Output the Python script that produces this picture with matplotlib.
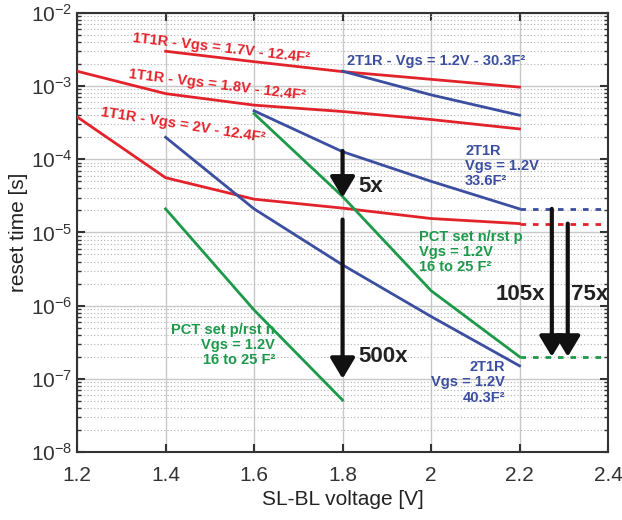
import matplotlib.pyplot as plt
from matplotlib.ticker import LogLocator, NullFormatter, FixedLocator

plt.rcParams['font.family'] = ['Liberation Sans', 'DejaVu Sans']
plt.rcParams['mathtext.fontset'] = 'custom'
plt.rcParams['mathtext.rm'] = 'Liberation Sans'

# --- data ---
v_17 = [1.4, 1.6, 1.8, 2.0, 2.2]
t_17 = [3.0e-3, 2.16e-3, 1.58e-3, 1.24e-3, 9.7e-4]

v_18 = [1.2, 1.4, 1.6, 1.8, 2.0, 2.2]
t_18 = [1.6e-3, 7.9e-4, 5.5e-4, 4.5e-4, 3.5e-4, 2.6e-4]

v_20 = [1.2, 1.4, 1.6, 1.8, 2.0, 2.2]
t_20 = [3.8e-4, 5.6e-5, 2.85e-5, 2.15e-5, 1.55e-5, 1.32e-5]

v_303 = [1.8, 2.0, 2.2]
t_303 = [1.6e-3, 7.6e-4, 4.0e-4]

v_336 = [1.6, 1.8, 2.0, 2.2]
t_336 = [4.6e-4, 1.27e-4, 5.0e-5, 2.1e-5]

v_403 = [1.4, 1.6, 1.8, 2.0, 2.2]
t_403 = [2.0e-4, 2.1e-5, 3.6e-6, 7.1e-7, 1.5e-7]

v_pct_n = [1.6, 1.8, 2.0, 2.2]
t_pct_n = [4.2e-4, 3.1e-5, 1.6e-6, 2.0e-7]

v_pct_p = [1.4, 1.6, 1.8]
t_pct_p = [2.1e-5, 8.7e-7, 5.1e-8]

# extrapolated levels beyond 2.2 V
ext_v = [2.2, 2.4]

# improvement arrows
arrows_x = [1.8, 1.8, 2.273, 2.309]
arrows_y0 = [1.3e-4, 1.5e-5, 2.1e-5, 1.32e-5]
arrows_y1 = [3.0e-5, 1.0e-7, 2.0e-7, 2.0e-7]

red = '#e3232b'
blue = '#3b4ea0'
green = '#1c9a4a'

fig = plt.figure(figsize=(6.22, 5.2), dpi=100)
ax = fig.add_axes([0.124, 0.131, 0.8535, 0.844])

ax.set_yscale('log')
ax.set_xlim(1.2, 2.4)
ax.set_ylim(1e-8, 1e-2)

lw = 2.0
ax.plot(v_17, t_17, color=red, lw=lw, zorder=3)
ax.plot(v_18, t_18, color=red, lw=lw, zorder=3)
ax.plot(v_20, t_20, color=red, lw=lw, zorder=3)
ax.plot(v_303, t_303, color=blue, lw=lw, zorder=3)
ax.plot(v_336, t_336, color=blue, lw=lw, zorder=3)
ax.plot(v_403, t_403, color=blue, lw=lw, zorder=3)
ax.plot(v_pct_n, t_pct_n, color=green, lw=lw, zorder=3)
ax.plot(v_pct_p, t_pct_p, color=green, lw=lw, zorder=3)

dash = (0, (2, 2.5))
ax.plot(ext_v, [t_20[-1]] * 2, color=red, lw=lw, ls=dash, zorder=3)
ax.plot(ext_v, [t_336[-1]] * 2, color=blue, lw=lw, ls=dash, zorder=3)
ax.plot(ext_v, [t_pct_n[-1]] * 2, color=green, lw=lw, ls=dash, zorder=3)

for x, y0, y1 in zip(arrows_x, arrows_y0, arrows_y1):
    ax.annotate('', xy=(x, y1), xytext=(x, y0),
                arrowprops=dict(arrowstyle='-|>,head_width=0.75,head_length=1.25',
                                color='#111111', lw=3.0, shrinkA=0, shrinkB=0),
                zorder=5)

# axes / grid
ax.xaxis.set_major_locator(FixedLocator([1.2, 1.4, 1.6, 1.8, 2.0, 2.2, 2.4]))
ax.set_xticklabels(['1.2', '1.4', '1.6', '1.8', '2', '2.2', '2.4'])
ax.yaxis.set_major_locator(LogLocator(base=10, numticks=10))
ax.yaxis.set_minor_locator(LogLocator(base=10, subs=range(2, 10), numticks=20))
ax.yaxis.set_minor_formatter(NullFormatter())
ax.grid(True, which='major', color='#c8c8c8', lw=1.0)
ax.grid(True, which='minor', axis='y', color='#b0b0b0', lw=0.8, ls=(0, (1, 2)))
ax.set_axisbelow(True)

ax.tick_params(which='both', direction='in', top=True, right=True, labelsize=15,
               colors='#333333')
ax.tick_params(which='major', length=6, width=1.5)
ax.tick_params(which='minor', length=3, width=1.0)
ax.tick_params(axis='x', pad=10)
for s in ax.spines.values():
    s.set_linewidth(1.5)
    s.set_color('#333333')

ax.set_xlabel('SL-BL voltage [V]', fontsize=15, labelpad=4, color='#222222')
ax.set_ylabel('reset time [s]', fontsize=15, labelpad=2, color='#222222')

# curve labels
fs = 10.5
ax.text(1.525, 3.3e-3, '1T1R - Vgs = 1.7V - 12.4F²', color=red, fontsize=fs,
        fontweight='bold', rotation=-6.5, ha='center', va='center')
ax.text(1.516, 1.05e-3, '1T1R - Vgs = 1.8V - 12.4F²', color=red, fontsize=fs,
        fontweight='bold', rotation=-7, ha='center', va='center')
ax.text(1.44, 2.95e-4, '1T1R - Vgs = 2V - 12.4F²', color=red, fontsize=fs,
        fontweight='bold', rotation=-9, ha='center', va='center')
ax.text(1.81, 2.2e-3, '2T1R - Vgs = 1.2V - 30.3F²', color=blue, fontsize=fs,
        fontweight='bold', ha='left', va='center')
ax.text(2.077, 8.0e-5, '2T1R\nVgs = 1.2V\n33.6F²', color=blue, fontsize=fs,
        fontweight='bold', ha='left', va='center', linespacing=1.1)
ax.text(1.973, 5.4e-6, 'PCT set n/rst p\nVgs = 1.2V\n16 to 25 F²', color=green,
        fontsize=fs, fontweight='bold', ha='left', va='center', linespacing=1.1)
ax.text(1.647, 2.9e-7, 'PCT set p/rst n\nVgs = 1.2V\n16 to 25 F²', color=green,
        fontsize=fs, fontweight='bold', ha='right', va='center',
        multialignment='right', linespacing=1.1)
ax.text(2.167, 8.9e-8, '2T1R\nVgs = 1.2V\n40.3F²', color=blue, fontsize=fs,
        fontweight='bold', ha='right', va='center', multialignment='right',
        linespacing=1.1)

# factor labels
ax.text(1.836, 4.2e-5, '5x', color='#222222', fontsize=16, fontweight='bold',
        ha='left', va='center')
ax.text(1.835, 2.0e-7, '500x', color='#222222', fontsize=16, fontweight='bold',
        ha='left', va='center')
ax.text(2.258, 1.4e-6, '105x', color='#222222', fontsize=16, fontweight='bold',
        ha='right', va='center')
ax.text(2.4, 1.4e-6, '75x', color='#222222', fontsize=16, fontweight='bold',
        ha='right', va='center')

fig.savefig('out.png', dpi=100)
